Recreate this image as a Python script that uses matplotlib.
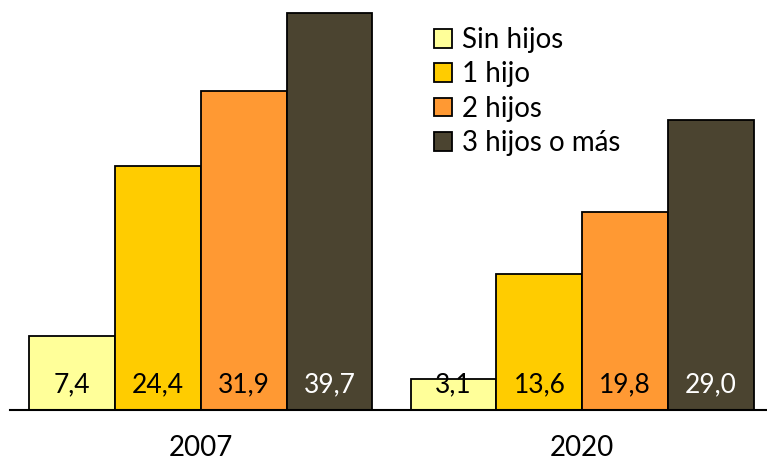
import matplotlib
matplotlib.use('Agg')
import matplotlib.pyplot as plt
import numpy as np

# data
years = ['2007', '2020']
series = ['Sin hijos', '1 hijo', '2 hijos', '3 hijos o más']
values = [[7.4, 3.1],      # Sin hijos
          [24.4, 13.6],    # 1 hijo
          [31.9, 19.8],    # 2 hijos
          [39.7, 29.0]]    # 3 hijos o más
colors = ['#FFFF99', '#FFCC00', '#FF9933', '#4B4430']
label_colors = ['black', 'black', 'black', 'white']

plt.rcParams['font.family'] = ['Lato', 'DejaVu Sans']

fig = plt.figure(figsize=(7.67, 4.62), dpi=100)
ax = fig.add_axes([10/767, 52/462, 763/767, 410/462])

x = np.arange(len(years))
w = 0.225
for i, name in enumerate(series):
    pos = x + (i - 1.5) * w
    bars = ax.bar(pos, values[i], width=w, color=colors[i], edgecolor='black',
                  linewidth=1.3, label=name, zorder=2)
    for b, v in zip(bars, values[i]):
        ax.text(b.get_x() + b.get_width() / 2, 2.5, f'{v:.1f}'.replace('.', ','),
                ha='center', va='center', fontsize=19, color=label_colors[i], zorder=3)

ax.set_xlim(-0.5, 1.5)
ax.set_ylim(0, 41)
ax.set_xticks(x)
ax.set_xticklabels(years, fontsize=20)
ax.tick_params(axis='x', length=0, pad=18)
ax.set_yticks([])
for s in ['top', 'right', 'left']:
    ax.spines[s].set_visible(False)
ax.spines['bottom'].set_linewidth(1.5)

ax.legend(loc='upper left', bbox_to_anchor=(434/767, 1 - 27/462),
          bbox_transform=fig.transFigure, frameon=False, fontsize=20,
          handlelength=0.65, handleheight=0.65, handletextpad=0.35, labelspacing=0.3,
          borderaxespad=0, borderpad=0)

fig.savefig('out.png', dpi=100)
